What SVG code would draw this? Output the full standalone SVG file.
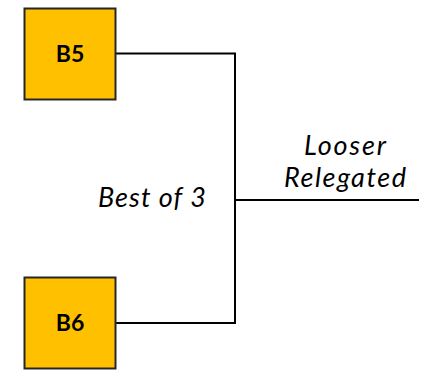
<svg xmlns="http://www.w3.org/2000/svg" width="421" height="370" viewBox="0 0 421 370">
<style>
.box{fill:#FFC000;stroke:#262626;stroke-width:2}
.lbl{font-family:Lato,"Open Sans",sans-serif;font-weight:bold;font-size:23px;fill:#000;text-anchor:middle}
.it{font-family:Lato,"Open Sans",sans-serif;font-style:italic;font-size:27px;fill:#000;text-anchor:middle}
.ln{stroke:#000;stroke-width:2;fill:none}
</style>
<rect width="421" height="370" fill="#fff"/>
<g id="connectors">
<polyline class="ln" points="116,53.5 235,53.5 235,323 116,323"/>
<line class="ln" x1="235" y1="200" x2="419" y2="200"/>
</g>
<g id="B5">
<rect class="box" x="24.5" y="8.5" width="91" height="91"/>
<text class="lbl" x="70" y="62">B5</text>
</g>
<g id="B6">
<rect class="box" x="24.5" y="277.5" width="91" height="91"/>
<text class="lbl" x="70" y="331">B6</text>
</g>
<g id="labels">
<text class="it" x="152" y="207" textLength="108" lengthAdjust="spacing">Best of 3</text>
<text class="it" x="345" y="155" textLength="82" lengthAdjust="spacing">Looser</text>
<text class="it" x="345" y="187" textLength="122" lengthAdjust="spacing">Relegated</text>
</g>
</svg>
